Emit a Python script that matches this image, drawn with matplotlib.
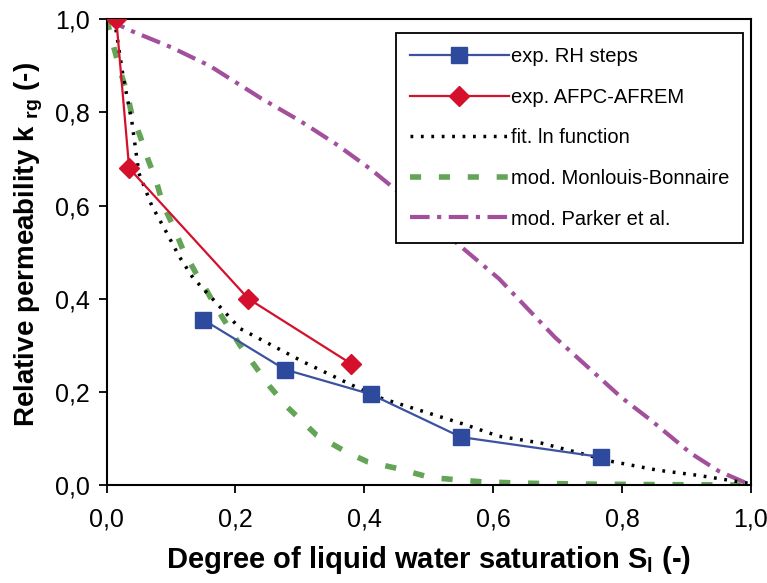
import matplotlib
matplotlib.use("Agg")
import matplotlib.pyplot as plt
from matplotlib.ticker import FuncFormatter

plt.rcParams['font.family'] = ['Liberation Sans', 'DejaVu Sans']
plt.rcParams['mathtext.fontset'] = 'custom'
plt.rcParams['mathtext.rm'] = 'Liberation Sans:bold'
plt.rcParams['mathtext.it'] = 'Liberation Sans:bold'
plt.rcParams['mathtext.bf'] = 'Liberation Sans:bold'

# data
rh_x = [0.15, 0.277, 0.41, 0.55, 0.768]
rh_y = [0.355, 0.248, 0.195, 0.103, 0.06]

afpc_x = [0.015, 0.035, 0.22, 0.38]
afpc_y = [1.0, 0.68, 0.40, 0.26]

fit_x = [0.012, 0.018, 0.026, 0.039, 0.05, 0.07, 0.09, 0.113, 0.134, 0.171, 0.207,
         0.306, 0.418, 0.556, 0.608, 0.675, 0.783, 0.855, 0.917, 0.968, 1.0]
fit_y = [1.0, 0.946, 0.874, 0.782, 0.67, 0.60, 0.55, 0.49, 0.445, 0.39, 0.336,
         0.264, 0.19, 0.13, 0.105, 0.09, 0.051, 0.032, 0.021, 0.01, 0.003]

mb_x = [0.0, 0.01, 0.021, 0.031, 0.039, 0.052, 0.064, 0.077, 0.087, 0.103, 0.118,
        0.139, 0.155, 0.171, 0.207, 0.253, 0.28, 0.326, 0.372, 0.405, 0.45, 0.503,
        0.582, 0.65, 0.75, 0.85, 1.0]
mb_y = [1.0, 0.946, 0.889, 0.846, 0.796, 0.749, 0.70, 0.653, 0.604, 0.557, 0.507,
        0.454, 0.418, 0.379, 0.30, 0.212, 0.168, 0.107, 0.071, 0.05, 0.036, 0.016,
        0.007, 0.004, 0.002, 0.001, 0.0]

pk_x = [0.0, 0.04, 0.10, 0.16, 0.24, 0.30, 0.356, 0.41, 0.47, 0.543, 0.609, 0.696,
        0.799, 0.845, 0.907, 0.95, 1.0]
pk_y = [1.0, 0.974, 0.94, 0.90, 0.83, 0.782, 0.732, 0.678, 0.61, 0.52, 0.443, 0.317,
        0.188, 0.139, 0.068, 0.03, 0.0]

labels = ["exp. RH steps", "exp. AFPC-AFREM", "fit. ln function",
          "mod. Monlouis-Bonnaire", "mod. Parker et al."]
ticks = [0.0, 0.2, 0.4, 0.6, 0.8, 1.0]

fig = plt.figure(figsize=(7.67, 5.83), dpi=100)
ax = fig.add_axes([0.139, 0.168, 0.840, 0.799])

ax.plot(pk_x, pk_y, color='#a3509c', lw=3, dashes=(4.7, 1.8, 1.0, 1.8),
        label=labels[4], zorder=2)
ax.plot(mb_x, mb_y, color='#64a456', lw=4, dashes=(2.0, 3.2), label=labels[3], zorder=2)
ax.plot(fit_x, fit_y, color='black', lw=2.5, dashes=(0.8, 2.2), label=labels[2], zorder=3)
ax.plot(afpc_x, afpc_y, color='#d4102c', lw=1.6, marker='D', markersize=10,
        label=labels[1], zorder=4)
ax.plot(rh_x, rh_y, color='#3c52a0', lw=1.6, marker='s', markersize=12,
        markerfacecolor='#2d4a9c', markeredgecolor='#2d4a9c', label=labels[0], zorder=4)

ax.set_xlim(0, 1)
ax.set_ylim(0, 1)
ax.set_xticks(ticks)
ax.set_yticks(ticks)
fmt = FuncFormatter(lambda v, p: f"{v:.1f}".replace('.', ','))
ax.xaxis.set_major_formatter(fmt)
ax.yaxis.set_major_formatter(fmt)
ax.tick_params(direction='out', length=6, width=1.3, labelsize=18, pad=6, colors='black')
ax.tick_params(axis='x', pad=10)
for s in ax.spines.values():
    s.set_linewidth(1.5)

ax.set_xlabel("Degree of liquid water saturation S$_{\\rm l}$ (-)", fontsize=21,
              fontweight='bold', labelpad=9)
ax.set_ylabel("Relative permeability k $_{\\rm rg}$ (-)", fontsize=20,
              fontweight='bold', labelpad=7)
ax.yaxis.label.set_y(0.517)

h, l = ax.get_legend_handles_labels()
order = [4, 3, 2, 1, 0]
leg = ax.legend([h[i] for i in order], [l[i] for i in order], loc='upper right',
                bbox_to_anchor=(0.988, 0.97), fontsize=14.5, handlelength=4.9,
                handletextpad=0.1, labelspacing=1.07, borderpad=0.7,
                borderaxespad=0.0, fancybox=False, framealpha=1, edgecolor='black')
leg.get_frame().set_linewidth(1.3)

fig.savefig("out.png", dpi=100)
